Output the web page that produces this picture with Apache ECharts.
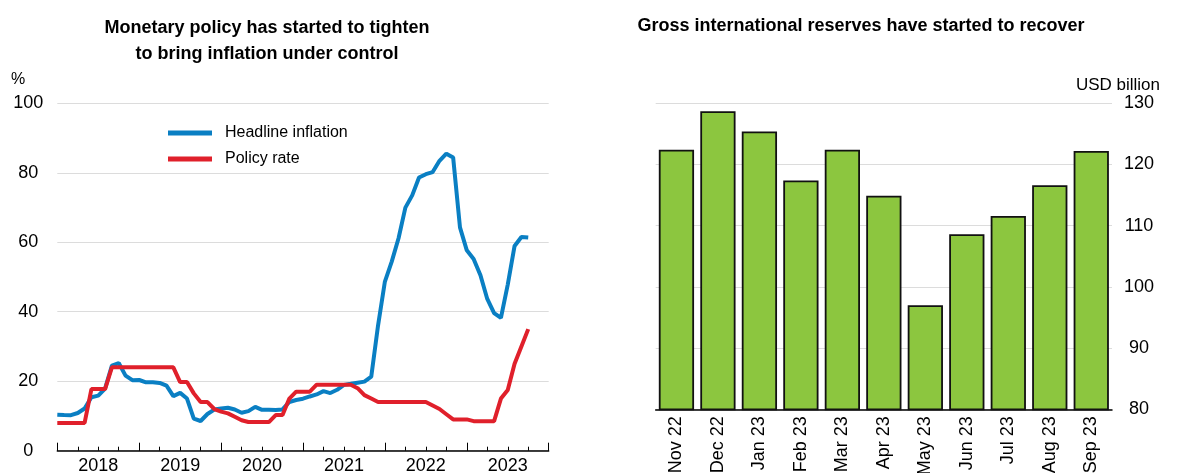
<!DOCTYPE html>
<html>
<head>
<meta charset="utf-8">
<script src="https://cdn.jsdelivr.net/npm/echarts@6/dist/echarts.min.js"></script>
<style>
html,body{margin:0;padding:0;background:#fff;}
#c{width:1198px;height:473px;}
</style>
</head>
<body>
<div id="c"></div>
<script>
// ---- Data ----
const startYear = 2018; // monthly series start Jan 2018
const inflation = [
  10.35,10.26,10.23,10.85,12.15,15.39,15.85,17.90,24.52,25.24,21.62,20.30,
  20.35,19.67,19.71,19.50,18.71,15.72,16.65,15.01,9.26,8.55,10.56,11.84,
  12.15,12.37,11.86,10.94,11.39,12.62,11.76,11.77,11.75,11.89,14.03,14.60,
  14.97,15.61,16.19,17.14,16.59,17.53,18.95,19.25,19.58,19.89,21.31,36.08,
  48.69,54.44,61.14,69.97,73.50,78.62,79.60,80.21,83.45,85.51,84.39,64.27,
  57.68,55.18,50.51,43.68,39.59,38.21,47.83,58.94,61.53,61.36
];
const policyRate = [
  8,8,8,8,8,17.75,17.75,17.75,24,24,24,24,
  24,24,24,24,24,24,19.75,19.75,16.5,14,14,12,
  11.25,10.75,9.75,8.75,8.25,8.25,8.25,8.25,10.25,10.25,15,17,
  17,17,19,19,19,19,19,19,18,16,15,14,
  14,14,14,14,14,14,14,13,12,10.5,9,9,
  9,8.5,8.5,8.5,8.5,15,17.5,25,30,35
];
const reserveMonths = ['Nov 22','Dec 22','Jan 23','Feb 23','Mar 23','Apr 23','May 23','Jun 23','Jul 23','Aug 23','Sep 23'];
const reserves = [122.4,128.7,125.4,117.4,122.4,114.9,97.0,108.6,111.6,116.6,122.2];
const leftTicks = [0,20,40,60,80,100];
const rightTicks = [80,90,100,110,120,130];

const FONT = 'Liberation Sans, Arial, Helvetica, sans-serif';
const chart = echarts.init(document.getElementById('c'), null, {renderer:'canvas'});

chart.setOption({
  animation:false,
  backgroundColor:'#fff',
  textStyle:{fontFamily:FONT,color:'#000'},
  title:[
    {text:'Monetary policy has started to tighten\nto bring inflation under control',
     left:262, top:10, textAlign:'center',
     textStyle:{fontFamily:FONT,fontSize:18,fontWeight:'bold',color:'#000',lineHeight:26}},
    {text:'Gross international reserves have started to recover',
     left:856, top:12, textAlign:'center',
     textStyle:{fontFamily:FONT,fontSize:18,fontWeight:'bold',color:'#000'}}
  ],
  graphic:[
    {type:'text', left:11, top:72, style:{text:'%', font:'16px '+FONT, fill:'#000'}},
    {type:'text', right:38, top:77, style:{text:'USD billion', font:'17px '+FONT, fill:'#000'}}
  ],
  legend:{
    data:['Headline inflation','Policy rate'],
    orient:'vertical', left:163, top:120,
    icon:'rect', itemWidth:44, itemHeight:5, itemGap:10,
    textStyle:{fontFamily:FONT,fontSize:16,color:'#000',padding:[0,0,0,8]}
  },
  grid:[
    {left:57.3, top:103.3, width:491.4, height:347.4, containLabel:false, outerBoundsMode:'none'},
    {left:655.7, top:103.3, width:456.3, height:306, containLabel:false, outerBoundsMode:'none'}
  ],
  xAxis:[
    {type:'value', gridIndex:0, position:'bottom', min:0, max:72, interval:3,
     axisLine:{lineStyle:{color:'#000',width:1.5}},
     axisTick:{inside:true,length:4,lineStyle:{color:'#000',width:1}},
     splitLine:{show:false},
     axisLabel:{fontSize:18,color:'#000',fontFamily:FONT,margin:6,
       formatter:function(v){return (v%12===6)?String(startYear+(v-6)/12):'';}}},
    {type:'value', gridIndex:0, position:'bottom', offset:0, min:0, max:72, interval:12,
     axisLine:{show:false},
     axisTick:{inside:true,length:8,lineStyle:{color:'#000',width:1}},
     splitLine:{show:false}, axisLabel:{show:false}},
    {type:'category', gridIndex:1, data:reserveMonths,
     axisLine:{lineStyle:{color:'#000',width:1.5}},
     axisTick:{inside:true,length:5,lineStyle:{color:'#000',width:1}},
     axisLabel:{rotate:90,fontSize:18,color:'#000',fontFamily:FONT,margin:7,interval:0}}
  ],
  yAxis:[
    {type:'value', gridIndex:0, min:leftTicks[0], max:leftTicks[leftTicks.length-1], interval:20,
     axisLine:{show:false}, axisTick:{show:false},
     splitLine:{lineStyle:{color:'#dcdcdc',width:1}},
     axisLabel:{fontSize:18,color:'#000',fontFamily:FONT,align:'center',margin:29}},
    {type:'value', gridIndex:1, position:'right', min:rightTicks[0], max:rightTicks[rightTicks.length-1], interval:10,
     axisLine:{show:false}, axisTick:{show:false},
     splitLine:{lineStyle:{color:'#dcdcdc',width:1}},
     axisLabel:{fontSize:18,color:'#000',fontFamily:FONT,align:'center',margin:27}}
  ],
  series:[
    {name:'Headline inflation', type:'line', xAxisIndex:0, yAxisIndex:0,
     data:inflation.map((v,i)=>[i,v]), showSymbol:false, symbol:'none',
     color:'#0a7fc3', lineStyle:{color:'#0a7fc3',width:4}},
    {name:'Policy rate', type:'line', xAxisIndex:0, yAxisIndex:0,
     data:policyRate.map((v,i)=>[i,v]), showSymbol:false, symbol:'none',
     color:'#e0202b', lineStyle:{color:'#e0202b',width:4}},
    {name:'Reserves', type:'bar', xAxisIndex:2, yAxisIndex:1,
     data:reserves, barCategoryGap:'15%',
     itemStyle:{color:'#8cc63f',borderColor:'#111',borderWidth:1.8}}
  ]
});
</script>
</body>
</html>
